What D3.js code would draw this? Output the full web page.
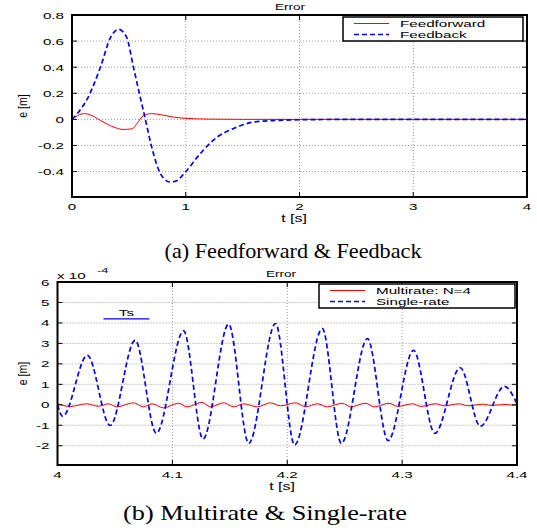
<!DOCTYPE html>
<html>
<head>
<meta charset="utf-8">
<script src="https://cdn.jsdelivr.net/npm/d3@7/dist/d3.min.js"></script>
<style>
  body { margin: 0; background: #fff; }
  svg text { font-family: "Liberation Sans", Arial, sans-serif; }
</style>
</head>
<body>
<svg id="chart" width="537" height="531"></svg>
<script>
// (a) feedforward vs feedback, e [m] over t [s]
const ffTime = [0, 0.05, 0.11, 0.16, 0.25, 0.37, 0.45, 0.53, 0.57, 0.63, 0.70, 0.78, 0.89, 1.0, 1.2, 1.5, 4];
const ffErr  = [0, 0.03, 0.044, 0.035, -0.008, -0.06, -0.077, -0.072, -0.033, 0.03, 0.044, 0.036, 0.018, 0.008, 0.002, 0, 0];
const fbTime = [0, 0.07, 0.13, 0.25, 0.34, 0.41, 0.48, 0.54, 0.60, 0.645, 0.70, 0.78, 0.86, 0.92, 1.0, 1.13, 1.27, 1.42, 1.6, 1.8, 2.0, 2.5, 4];
const fbErr  = [0, 0.07, 0.15, 0.40, 0.63, 0.69, 0.63, 0.40, 0.17, 0, -0.21, -0.42, -0.48, -0.47, -0.40, -0.26, -0.14, -0.07, -0.02, -0.008, -0.003, 0, 0];

// (b) multirate vs single-rate, e in units of 1e-4 m
const mrTime = [4.0, 4.0109, 4.0255, 4.0356, 4.0443, 4.0517, 4.0661, 4.0749, 4.0822, 4.0923, 4.1054, 4.1127, 4.1258, 4.1331,
  4.1447, 4.1534, 4.1621, 4.1738, 4.1854, 4.1942, 4.2072, 4.2160, 4.2262, 4.2349, 4.2480, 4.2552, 4.2683, 4.2756,
  4.2887, 4.2960, 4.3091, 4.3163, 4.3294, 4.3366, 4.3497, 4.3571, 4.3702, 4.3774, 4.3905, 4.3963, 4.4];
const mrErr  = [0.05, -0.08, 0.05, -0.07, 0.05, -0.1, 0.1, -0.1, 0.05, -0.15, 0.08, -0.1, 0.12, -0.1,
  0.1, -0.1, 0.05, -0.1, 0.1, -0.05, 0.1, -0.1, 0.05, -0.1, 0.08, -0.1, 0.08, -0.1,
  0.08, -0.08, 0.05, -0.08, 0.05, -0.05, 0.05, -0.05, 0.03, -0.03, 0.02, -0.02, 0];
const srTime = [4.0, 4.0045, 4.026, 4.0458, 4.0676, 4.086, 4.1098, 4.1267, 4.149, 4.1665, 4.1898, 4.2064, 4.2305, 4.2471,
  4.2698, 4.2878, 4.3099, 4.3285, 4.3506, 4.3681, 4.389, 4.4];
const srErr  = [0, -0.56, 2.42, -1.01, 3.15, -1.39, 3.61, -1.67, 3.94, -1.88, 3.97, -1.96, 3.72, -1.88,
  3.23, -1.75, 2.66, -1.39, 1.81, -1.05, 0.90, 0.05];

const topXTicks = [0, 1, 2, 3, 4];
const topYTicks = [-0.4, -0.2, 0, 0.2, 0.4, 0.6, 0.8];
const botXTicks = [4, 4.1, 4.2, 4.3, 4.4];
const botYTicks = [-2, -1, 0, 1, 2, 3, 4, 5, 6];
const tsMark = {t0: 4.04, t1: 4.08, v: 4.2};

const svg = d3.select('#chart');
const SX = 1.6;   // the figure text is stretched sideways

// horizontally stretched label
function stext(g, x, y, str, anchor, size) {
    return g.append('text')
        .attr('transform', `translate(${x},${y}) scale(${SX},1)`)
        .attr('text-anchor', anchor || 'start')
        .attr('font-size', size || 9.5)
        .text(str);
}

function drawPanel(p) {
    const x = d3.scaleLinear().domain(p.xDomain).range(p.xRange);
    const y = d3.scaleLinear().domain(p.yDomain).range(p.yRange);
    const [x0, x1] = p.xRange;
    const [y1, y0] = p.yRange;
    const g = svg.append('g');

    g.append('clipPath').attr('id', 'clip-' + p.id)
        .append('rect').attr('x', x0).attr('y', y0).attr('width', x1 - x0).attr('height', y1 - y0);

    // dotted grid
    g.selectAll('.gx').data(p.xTicks.slice(1, -1)).enter().append('line')
        .attr('x1', d => x(d)).attr('x2', d => x(d)).attr('y1', y0).attr('y2', y1)
        .attr('stroke', '#999').attr('stroke-width', 1).attr('stroke-dasharray', '1,2');
    g.selectAll('.gy').data(p.yTicks.filter(d => Math.abs(y(d) - y0) > 1)).enter().append('line')
        .attr('x1', x0).attr('x2', x1).attr('y1', d => y(d)).attr('y2', d => y(d))
        .attr('stroke', '#999').attr('stroke-width', 1).attr('stroke-dasharray', '1,2');

    // series
    const plot = g.append('g').attr('clip-path', 'url(#clip-' + p.id + ')');
    p.series.forEach(s => {
        const pts = s.t.map((t, i) => [t, s.v[i]]);
        plot.append('path').datum(pts)
            .attr('d', d3.line().x(d => x(d[0])).y(d => y(d[1])).curve(d3.curveMonotoneX))
            .attr('fill', 'none').attr('stroke', s.color).attr('stroke-width', s.width)
            .attr('stroke-dasharray', s.dash || null);
    });

    // ticks, inward on all sides
    const tl = 5;
    p.xTicks.forEach(d => {
        g.append('line').attr('x1', x(d)).attr('x2', x(d)).attr('y1', y1).attr('y2', y1 - tl).attr('stroke', '#000');
        g.append('line').attr('x1', x(d)).attr('x2', x(d)).attr('y1', y0).attr('y2', y0 + tl).attr('stroke', '#000');
    });
    p.yTicks.forEach(d => {
        g.append('line').attr('x1', x0).attr('x2', x0 + tl).attr('y1', y(d)).attr('y2', y(d)).attr('stroke', '#000');
        g.append('line').attr('x1', x1).attr('x2', x1 - tl).attr('y1', y(d)).attr('y2', y(d)).attr('stroke', '#000');
    });

    g.append('rect').attr('x', x0).attr('y', y0).attr('width', x1 - x0).attr('height', y1 - y0)
        .attr('fill', 'none').attr('stroke', '#000').attr('stroke-width', 2);

    // tick labels
    p.xTicks.forEach(d => stext(g, x(d), y1 + 13, String(d), 'middle'));
    p.yTicks.forEach(d => stext(g, x0 - 8, y(d) + 3.5, String(d), 'end'));

    // title and axis labels
    stext(g, p.titleX, y0 - 5, 'Error', 'middle', 8.5);
    stext(g, p.xLabelX, y1 + 25, 't [s]', 'middle', 10);
    g.append('text')
        .attr('transform', `translate(27,${(y0 + y1) / 2}) scale(1.25,1) rotate(-90)`)
        .attr('text-anchor', 'middle').attr('font-size', 10.5).text('e [m]');

    // legend
    const L = p.legend;
    g.append('rect').attr('x', L.x).attr('y', L.y).attr('width', L.w).attr('height', 24)
        .attr('fill', '#fff').attr('stroke', '#000').attr('stroke-width', 1.5);
    p.series.forEach((s, i) => {
        const ly = L.y + 6.5 + i * 11;
        g.append('line').attr('x1', L.x + 11).attr('x2', L.x + 46).attr('y1', ly).attr('y2', ly)
            .attr('stroke', s.color).attr('stroke-width', s.width).attr('stroke-dasharray', s.dash || null);
        stext(g, L.x + 57, ly + 3.5, s.name, 'start', 9.5);
    });

    // caption
    svg.append('text').attr('x', p.caption.x).attr('y', p.caption.y)
        .attr('text-anchor', 'middle').attr('font-size', 22)
        .attr('textLength', p.caption.len).attr('lengthAdjust', 'spacingAndGlyphs')
        .style('font-family', '"Liberation Serif", "DejaVu Serif", serif')
        .text(p.caption.text);

    return {g, x, y};
}

drawPanel({
    id: 'a', xDomain: [0, 4], xRange: [72, 527], yDomain: [-0.595, 0.8], yRange: [197, 15],
    xTicks: topXTicks, yTicks: topYTicks, titleX: 290, xLabelX: 294,
    series: [
        {name: 'Feedforward', t: ffTime, v: ffErr, color: '#ff0000', width: 1},
        {name: 'Feedback', t: fbTime, v: fbErr, color: '#0000ff', width: 1.7, dash: '5,3'}
    ],
    legend: {x: 343, y: 17, w: 180},
    caption: {text: '(a) Feedforward & Feedback', x: 293, y: 258, len: 257}
});

const pb = drawPanel({
    id: 'b', xDomain: [4, 4.4], xRange: [57.5, 517], yDomain: [-2.94, 6], yRange: [465, 282],
    xTicks: botXTicks, yTicks: botYTicks, titleX: 281, xLabelX: 282,
    series: [
        {name: 'Multirate: N=4', t: mrTime, v: mrErr, color: '#ff0000', width: 1},
        {name: 'Single-rate', t: srTime, v: srErr, color: '#0000ff', width: 1.7, dash: '5,3'}
    ],
    legend: {x: 319, y: 284, w: 196},
    caption: {text: '(b) Multirate & Single-rate', x: 265, y: 520, len: 284}
});

// exponent label
stext(pb.g, 57, 279, 'x 10', 'start', 9.5);
stext(pb.g, 97, 273, '-4', 'start', 8);

// Ts marker
pb.g.append('line').attr('x1', pb.x(tsMark.t0)).attr('x2', pb.x(tsMark.t1))
    .attr('y1', pb.y(tsMark.v)).attr('y2', pb.y(tsMark.v)).attr('stroke', '#0000ff').attr('stroke-width', 1.2);
stext(pb.g, pb.x((tsMark.t0 + tsMark.t1) / 2), pb.y(tsMark.v) - 3, 'Ts', 'middle', 9.5);
</script>
</body>
</html>
